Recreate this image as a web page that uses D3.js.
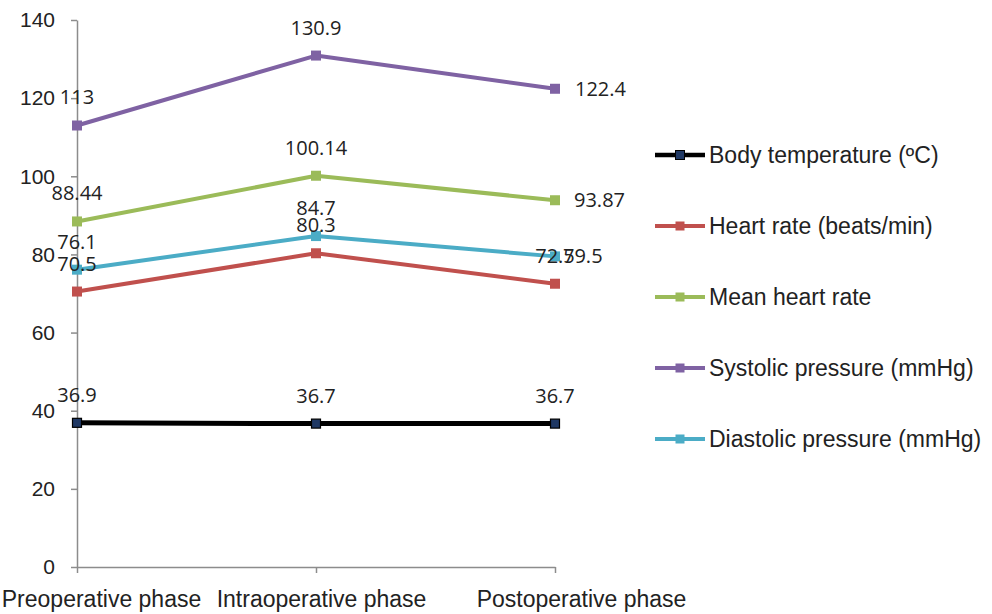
<!DOCTYPE html>
<html>
<head>
<meta charset="utf-8">
<script src="https://cdn.jsdelivr.net/npm/d3@7/dist/d3.min.js"></script>
<style>
  html, body { margin: 0; padding: 0; background: #fff; }
  svg { display: block; }
</style>
</head>
<body>
<svg id="chart" width="992" height="614"></svg>
<script>
// ---- data ----
const categories = ["Preoperative phase", "Intraoperative phase", "Postoperative phase"];
const seriesNames = [
  "Body temperature (ºC)",
  "Heart rate (beats/min)",
  "Mean heart rate",
  "Systolic pressure (mmHg)",
  "Diastolic pressure (mmHg)"
];
const bodyTemperature = [36.9, 36.7, 36.7];
const heartRate = [70.5, 80.3, 72.5];
const meanHeartRate = [88.44, 100.14, 93.87];
const systolicPressure = [113, 130.9, 122.4];
const diastolicPressure = [76.1, 84.7, 79.5];
const yTicks = [0, 20, 40, 60, 80, 100, 120, 140];

// ---- styles ----
const colors = ["#000000", "#C0504D", "#9BBB59", "#7F62A3", "#4BACC6"];
const markerFill = ["#1F3864", "#C0504D", "#9BBB59", "#7F62A3", "#4BACC6"];
const values = [bodyTemperature, heartRate, meanHeartRate, systolicPressure, diastolicPressure];
// label placement on the last category: "above" or "right"
const lastLabelSide = ["above", "above", "right", "right", "right"];
const rightGap = [0, 0, 19, 20, 8];

const svg = d3.select("#chart");
const x = d3.scalePoint().domain(categories).range([77, 555]);
const y = d3.scaleLinear().domain([0, 140]).range([567, 20]);

const axisColor = "#8c8c8c";
const numFont = "'Open Sans', 'Liberation Sans', sans-serif";
const txtFont = "'Liberation Sans', Arial, sans-serif";

// Y axis
const gy = svg.append("g").attr("transform", "translate(77,0)")
  .call(d3.axisLeft(y).tickValues(yTicks).tickSize(6).tickSizeOuter(0).tickPadding(16).tickFormat(d3.format("d")));
gy.select(".domain").attr("stroke", axisColor).attr("stroke-width", 1.5);
gy.selectAll(".tick line").attr("stroke", axisColor).attr("stroke-width", 1.5);
gy.selectAll(".tick text").attr("font-family", txtFont).attr("font-size", 21).attr("fill", "#222");

// X axis
const gx = svg.append("g").attr("transform", "translate(0,567)")
  .call(d3.axisBottom(x).tickSize(6).tickSizeOuter(0));
gx.select(".domain").attr("stroke", axisColor).attr("stroke-width", 1.5);
gx.selectAll(".tick line").attr("stroke", axisColor).attr("stroke-width", 1.5);
const catDx = [24, 5, 26];
gx.selectAll(".tick text")
  .attr("font-family", txtFont).attr("font-size", 23).attr("fill", "#222")
  .attr("y", 40).attr("dy", 0)
  .attr("dx", (d, i) => catDx[i]);

// Lines and markers
const line = d3.line().x((d, i) => x(categories[i])).y(d => y(d));
values.forEach((vals, s) => {
  svg.append("path")
    .datum(vals)
    .attr("d", line)
    .attr("fill", "none")
    .attr("stroke", colors[s])
    .attr("stroke-width", s === 0 ? 5 : 4)
    .attr("stroke-linejoin", "round");
  const ms = s === 0 ? 9 : 10;
  svg.selectAll(null).data(vals).enter().append("rect")
    .attr("x", (d, i) => x(categories[i]) - ms / 2)
    .attr("y", d => y(d) - ms / 2)
    .attr("width", ms).attr("height", ms)
    .attr("fill", markerFill[s])
    .attr("stroke", s === 0 ? "#000" : "none")
    .attr("stroke-width", 1.2);
});

// Data labels
values.forEach((vals, s) => {
  svg.selectAll(null).data(vals).enter().append("text")
    .attr("font-family", numFont)
    .attr("font-size", 20)
    .attr("fill", "#222")
    .each(function (d, i) {
      const t = d3.select(this);
      const px = x(categories[i]), py = y(d);
      if (i === 2 && lastLabelSide[s] === "right") {
        t.attr("x", px + rightGap[s]).attr("y", py + 7).attr("text-anchor", "start");
      } else {
        t.attr("x", px).attr("y", py - 21).attr("text-anchor", "middle");
      }
    })
    .text(d => String(d));
});

// Legend
const legendY0 = 155, legendStep = 71;
const lg = svg.append("g");
seriesNames.forEach((name, s) => {
  const cy = legendY0 + s * legendStep;
  lg.append("line").attr("x1", 655).attr("x2", 705).attr("y1", cy).attr("y2", cy)
    .attr("stroke", colors[s]).attr("stroke-width", s === 0 ? 4.5 : 4);
  lg.append("rect").attr("x", 680 - 4.5).attr("y", cy - 4.5).attr("width", 9).attr("height", 9)
    .attr("fill", markerFill[s]).attr("stroke", s === 0 ? "#000" : "none").attr("stroke-width", 1);
  lg.append("text").attr("x", 709).attr("y", cy + 8)
    .attr("font-family", txtFont).attr("font-size", 23).attr("fill", "#222")
    .text(name);
});
</script>
</body>
</html>
